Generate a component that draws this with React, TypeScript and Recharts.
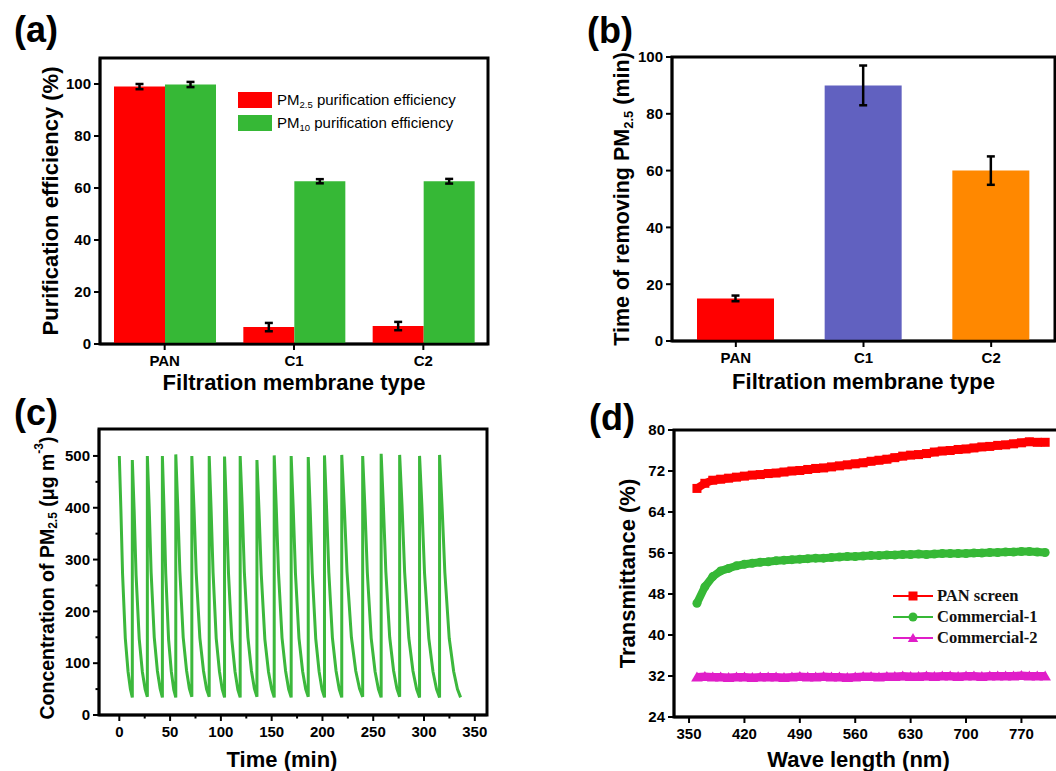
import React from "react";
import { BarChart, Bar, LineChart, Line, XAxis, YAxis, ErrorBar, Cell, Legend, ReferenceArea } from "recharts";

const sans = "'Liberation Sans', Arial, Helvetica, sans-serif";
const serif = "'Liberation Serif', 'Times New Roman', serif";
const axisLine = { stroke: "#000", strokeWidth: 2.5 };
const tickText = { fontFamily: sans, fontSize: 15, fontWeight: 700, fill: "#000" };
const titleStyle = { fontFamily: sans, fontWeight: 700, fill: "#000" };

// (a) purification efficiency per membrane
const membranes = ["PAN", "C1", "C2"];
const pm25Eff = [99.0, 6.5, 6.9];
const pm25EffErr = [1.0, 1.6, 1.6];
const pm10Eff = [99.8, 62.6, 62.6];
const pm10EffErr = [1.0, 0.8, 0.9];
const effColors = ["#ff0000", "#36b836"];

// (b) time needed to remove PM2.5
const removalTime = [15, 90, 60];
const removalTimeErr = [1, 7, 5];
const removalColors = ["#ff0000", "#6161c0", "#ff8800"];

// (c) PM2.5 concentration cycles: time (min) and concentration (ug/m3)
const cycleTimes = [
  [0, 1.5, 3.2, 5.9, 8.6, 10.9, 12.8],
  [12.8, 14.6, 16.5, 19.6, 22.7, 25.4, 27.6],
  [27.6, 29.4, 31.3, 34.4, 37.5, 40.2, 42.4],
  [42.4, 44.0, 45.7, 48.5, 51.2, 53.6, 55.6],
  [55.6, 57.5, 59.6, 62.9, 66.2, 69.0, 71.4],
  [71.4, 73.5, 75.7, 79.3, 82.9, 85.9, 88.5],
  [88.5, 90.3, 92.3, 95.4, 98.6, 101.3, 103.6],
  [103.6, 105.4, 107.5, 110.7, 113.9, 116.7, 119.0],
  [119.0, 121.0, 123.1, 126.6, 130.1, 133.0, 135.5],
  [135.5, 137.5, 139.8, 143.3, 146.9, 150.0, 152.5],
  [152.5, 154.5, 156.7, 160.2, 163.7, 166.7, 169.2],
  [169.2, 171.2, 173.4, 176.9, 180.5, 183.5, 186.0],
  [186.0, 187.9, 190.0, 193.4, 196.7, 199.6, 202.0],
  [202.0, 204.0, 206.3, 209.8, 213.4, 216.5, 219.0],
  [219.0, 221.5, 224.2, 228.5, 232.8, 236.5, 239.6],
  [239.6, 241.8, 244.2, 248.0, 251.8, 255.1, 257.8],
  [257.8, 260.0, 262.4, 266.2, 270.0, 273.3, 276.0],
  [276.0, 278.4, 280.9, 285.0, 289.1, 292.7, 295.6],
  [295.6, 298.0, 300.5, 304.7, 308.8, 312.3, 315.3],
  [315.3, 317.8, 320.5, 324.8, 329.2, 332.9, 336.0],
];
const cycleConc = [
  [500, 400, 272, 148, 84, 50, 34],
  [492, 395, 270, 147, 83, 50, 35],
  [500, 402, 276, 150, 85, 51, 34],
  [500, 398, 273, 146, 84, 49, 34],
  [503, 404, 278, 150, 86, 51, 35],
  [500, 400, 274, 149, 85, 50, 35],
  [500, 401, 275, 148, 84, 50, 34],
  [499, 399, 273, 147, 84, 49, 34],
  [500, 402, 276, 150, 85, 51, 35],
  [492, 396, 270, 146, 83, 50, 34],
  [501, 401, 276, 149, 85, 50, 34],
  [500, 400, 274, 148, 84, 50, 35],
  [498, 399, 273, 147, 84, 49, 34],
  [501, 401, 275, 149, 85, 50, 34],
  [502, 402, 276, 150, 85, 51, 35],
  [500, 400, 274, 148, 84, 50, 34],
  [504, 403, 277, 150, 86, 51, 35],
  [502, 402, 276, 149, 85, 50, 34],
  [500, 400, 274, 148, 84, 50, 34],
  [502, 401, 275, 148, 84, 50, 34],
];

// (d) transmittance spectra
const wavelength = [
  360, 370, 380, 390, 400, 410, 420, 430, 440, 450, 460, 470, 480, 490, 500,
  510, 520, 530, 540, 550, 560, 570, 580, 590, 600, 610, 620, 630, 640, 650,
  660, 670, 680, 690, 700, 710, 720, 730, 740, 750, 760, 770, 780, 790, 800,
];
const panScreen = [
  68.6, 69.6, 70.2, 70.4, 70.6, 70.8, 71.0, 71.2, 71.3, 71.5, 71.6, 71.8, 72.0, 72.1, 72.3,
  72.5, 72.6, 72.8, 73.0, 73.2, 73.4, 73.6, 73.9, 74.1, 74.3, 74.6, 74.9, 75.1, 75.2, 75.4,
  75.7, 75.9, 76.0, 76.2, 76.3, 76.5, 76.7, 76.8, 77.0, 77.1, 77.3, 77.5, 77.7, 77.6, 77.6,
];
const commercial1 = [
  46.2, 49.4, 51.4, 52.5, 53.0, 53.5, 53.8, 54.0, 54.2, 54.3, 54.5, 54.6, 54.7, 54.8, 54.9,
  55.0, 55.0, 55.1, 55.2, 55.3, 55.3, 55.4, 55.5, 55.5, 55.6, 55.6, 55.7, 55.7, 55.8, 55.7,
  55.8, 55.9, 55.9, 55.9, 55.9, 56.0, 56.0, 56.1, 56.1, 56.2, 56.2, 56.3, 56.3, 56.2, 56.1,
];
const commercial2 = [
  31.8, 31.9, 31.8, 31.8, 31.7, 31.8, 31.8, 31.7, 31.8, 31.8, 31.8, 31.7, 31.8, 31.9, 31.8,
  31.8, 31.9, 31.8, 31.8, 31.7, 31.8, 31.9, 31.9, 31.8, 31.9, 31.9, 32.0, 31.9, 31.9, 32.0,
  31.9, 32.0, 32.0, 31.9, 32.0, 32.0, 31.9, 32.0, 32.0, 32.0, 32.0, 32.1, 32.0, 32.0, 32.0,
];
const transSeries = [
  { key: "pan", name: "PAN screen", color: "#ff0000", shape: "square" },
  { key: "c1", name: "Commercial-1", color: "#36b836", shape: "circle" },
  { key: "c2", name: "Commercial-2", color: "#e01ec8", shape: "triangle" },
];

const effData = membranes.map((m, i) => ({
  name: m,
  pm25: pm25Eff[i],
  pm25Err: pm25EffErr[i],
  pm10: pm10Eff[i],
  pm10Err: pm10EffErr[i],
}));
const timeData = membranes.map((m, i) => ({ name: m, time: removalTime[i], err: removalTimeErr[i] }));
const concData = cycleTimes.flatMap((ts, i) => ts.map((t, j) => ({ t, c: cycleConc[i][j] })));
const transData = wavelength.map((w, i) => ({ wl: w, pan: panScreen[i], c1: commercial1[i], c2: commercial2[i] }));

// ticks drawn by hand so majors/minors and outward marks look like Origin
function bottomTick(majors?: number[], len = 6, minorLen = 3.5) {
  return (p: any) => {
    const v = p.payload.value;
    const major = !majors || majors.includes(v);
    return (
      <g>
        <line x1={p.x} x2={p.x} y1={p.y} y2={p.y + (major ? len : minorLen)} stroke="#000" strokeWidth={2} />
        {major && (
          <text x={p.x} y={p.y + 22} textAnchor="middle" {...tickText}>
            {v}
          </text>
        )}
      </g>
    );
  };
}

function leftTick(majors?: number[], len = 6, minorLen = 3.5) {
  return (p: any) => {
    const v = p.payload.value;
    const major = !majors || majors.includes(v);
    return (
      <g>
        <line x1={p.x - (major ? len : minorLen)} x2={p.x} y1={p.y} y2={p.y} stroke="#000" strokeWidth={2} />
        {major && (
          <text x={p.x - len - 3} y={p.y + 5.3} textAnchor="end" {...tickText}>
            {v}
          </text>
        )}
      </g>
    );
  };
}

function xTitle(content: React.ReactNode, dy: number, dx = 0, size = 22) {
  return (p: any) => {
    const vb = p.viewBox;
    return (
      <text x={vb.x + vb.width / 2 + dx} y={vb.y + dy} textAnchor="middle" fontSize={size} {...titleStyle}>
        {content}
      </text>
    );
  };
}

function yTitle(content: React.ReactNode, cx: number, dy = 0, size = 22) {
  return (p: any) => {
    const vb = p.viewBox;
    const x = vb.x + cx;
    const y = vb.y + vb.height / 2 + dy;
    return (
      <text
        x={x}
        y={y}
        transform={`rotate(-90 ${x} ${y})`}
        textAnchor="middle"
        dominantBaseline="central"
        fontSize={size}
        {...titleStyle}
      >
        {content}
      </text>
    );
  };
}

function marker(shape: string, color: string, cx: number, cy: number, s: number, key?: any) {
  if (shape === "square") return <rect key={key} x={cx - s / 2} y={cy - s / 2} width={s} height={s} fill={color} />;
  if (shape === "circle") return <circle key={key} cx={cx} cy={cy} r={s / 2} fill={color} />;
  return (
    <polygon
      key={key}
      points={`${cx},${cy - s * 0.55} ${cx + s * 0.58},${cy + s * 0.45} ${cx - s * 0.58},${cy + s * 0.45}`}
      fill={color}
    />
  );
}

// plot frame (Origin-style closed box)
function frame(y1: number, y2: number) {
  return <ReferenceArea y1={y1} y2={y2} fill="none" fillOpacity={0} stroke="#000" strokeWidth={3} ifOverflow="visible" />;
}

function EffLegend() {
  const subs = ["2.5", "10"];
  return (
    <div style={{ fontFamily: sans, fontSize: 15, color: "#000" }}>
      {subs.map((s, i) => (
        <div key={s} style={{ display: "flex", alignItems: "center", height: 23 }}>
          <span style={{ display: "inline-block", width: 34, height: 16, background: effColors[i], marginRight: 5 }} />
          <span style={{ whiteSpace: "nowrap" }}>
            PM<sub style={{ fontSize: 9.5, verticalAlign: "-3px" }}>{s}</sub> purification efficiency
          </span>
        </div>
      ))}
    </div>
  );
}

function TransLegend() {
  return (
    <div style={{ fontFamily: serif, fontSize: 16.5, fontWeight: 700, color: "#111" }}>
      {transSeries.map((s) => (
        <div key={s.key} style={{ display: "flex", alignItems: "center", height: 21 }}>
          <svg width={40} height={12} style={{ marginRight: 4 }}>
            <line x1={0} x2={40} y1={6} y2={6} stroke={s.color} strokeWidth={2} />
            {marker(s.shape, s.color, 20, 6, 9)}
          </svg>
          <span style={{ whiteSpace: "nowrap" }}>{s.name}</span>
        </div>
      ))}
    </div>
  );
}

function PanelA() {
  return (
    <BarChart width={520} height={400} data={effData} margin={{ top: 58, right: 32, bottom: 0, left: 0 }} barGap={0}>
      <XAxis
        dataKey="name"
        height={56}
        interval={0}
        tickSize={0}
        tickMargin={0}
        tickLine={false}
        axisLine={axisLine}
        tick={bottomTick()}
        label={xTitle("Filtration membrane type", 46)}
      />
      <YAxis
        domain={[0, 110]}
        ticks={[0, 20, 40, 60, 80, 100]}
        allowDataOverflow
        width={100}
        interval={0}
        tickSize={0}
        tickMargin={0}
        tickLine={false}
        axisLine={axisLine}
        tick={leftTick()}
        label={yTitle("Purification efficiency (%)", 50)}
      />
      <Legend
        layout="horizontal"
        verticalAlign="middle"
        align="center"
        content={() => <EffLegend />}
        wrapperStyle={{ left: 238, top: 88.5, width: 240 }}
      />
      <Bar dataKey="pm25" fill={effColors[0]} barSize={51} isAnimationActive={false}>
        <ErrorBar dataKey="pm25Err" width={4} stroke="#000" strokeWidth={2.5} />
      </Bar>
      <Bar dataKey="pm10" fill={effColors[1]} barSize={51} isAnimationActive={false}>
        <ErrorBar dataKey="pm10Err" width={4} stroke="#000" strokeWidth={2.5} />
      </Bar>
      {frame(0, 110)}
    </BarChart>
  );
}

function PanelB() {
  return (
    <BarChart width={496} height={400} data={timeData} margin={{ top: 57, right: 1, bottom: 0, left: 0 }}>
      <XAxis
        dataKey="name"
        height={59}
        interval={0}
        tickSize={0}
        tickMargin={0}
        tickLine={false}
        axisLine={axisLine}
        tick={bottomTick()}
        label={xTitle("Filtration membrane type", 48)}
      />
      <YAxis
        domain={[0, 100]}
        ticks={[0, 20, 40, 60, 80, 100]}
        allowDataOverflow
        width={112}
        interval={0}
        tickSize={0}
        tickMargin={0}
        tickLine={false}
        axisLine={axisLine}
        tick={leftTick()}
        label={yTitle(
          <>
            <tspan>Time of removing PM</tspan>
            <tspan fontSize={13} dy={6}>2.5</tspan>
            <tspan dy={-6}> (min)</tspan>
          </>,
          62,
          0,
          21.5
        )}
      />
      <Bar dataKey="time" barSize={77} isAnimationActive={false}>
        {timeData.map((d, i) => (
          <Cell key={d.name} fill={removalColors[i]} />
        ))}
        <ErrorBar dataKey="err" width={4} stroke="#000" strokeWidth={2.5} />
      </Bar>
      {frame(0, 100)}
    </BarChart>
  );
}

const concXTicks = [0, 25, 50, 75, 100, 125, 150, 175, 200, 225, 250, 275, 300, 325, 350];
const concXMajors = [0, 50, 100, 150, 200, 250, 300, 350];
const concYTicks = [0, 50, 100, 150, 200, 250, 300, 350, 400, 450, 500];
const concYMajors = [0, 100, 200, 300, 400, 500];

function PanelC() {
  return (
    <LineChart width={520} height={381} data={concData} margin={{ top: 39, right: 33, bottom: 0, left: 0 }}>
      <XAxis
        type="number"
        dataKey="t"
        domain={[-20, 362]}
        ticks={concXTicks}
        allowDataOverflow
        height={56}
        interval={0}
        tickSize={0}
        tickMargin={0}
        tickLine={false}
        axisLine={axisLine}
        tick={bottomTick(concXMajors)}
        label={xTitle("Time (min)", 52, -11)}
      />
      <YAxis
        domain={[0, 552]}
        ticks={concYTicks}
        allowDataOverflow
        width={99}
        interval={0}
        tickSize={0}
        tickMargin={0}
        tickLine={false}
        axisLine={axisLine}
        tick={leftTick(concYMajors)}
        label={yTitle(
          <>
            <tspan>Concentration of PM</tspan>
            <tspan fontSize={12} dy={6}>2.5</tspan>
            <tspan dy={-6}> (μg m</tspan>
            <tspan fontSize={12} dy={-8}>-3</tspan>
            <tspan dy={8}>)</tspan>
          </>,
          47,
          6,
          19.5
        )}
      />
      <Line type="linear" dataKey="c" stroke="#3cb83c" strokeWidth={3} dot={false} isAnimationActive={false} />
      {frame(0, 552)}
    </LineChart>
  );
}

const transXTicks = [350, 420, 490, 560, 630, 700, 770];
const transYTicks = [24, 32, 40, 48, 56, 64, 72, 80];

function PanelD() {
  return (
    <LineChart width={502} height={381} data={transData} margin={{ top: 40, right: 1, bottom: 0, left: 0 }}>
      <XAxis
        type="number"
        dataKey="wl"
        domain={[331, 820]}
        ticks={transXTicks}
        allowDataOverflow
        height={54}
        interval={0}
        tickSize={0}
        tickMargin={0}
        tickLine={false}
        axisLine={axisLine}
        tick={bottomTick()}
        label={xTitle("Wave length (nm)", 50, -9)}
      />
      <YAxis
        domain={[24, 80]}
        ticks={transYTicks}
        allowDataOverflow
        width={114}
        interval={0}
        tickSize={0}
        tickMargin={0}
        tickLine={false}
        axisLine={axisLine}
        tick={leftTick()}
        label={yTitle("Transmittance (%)", 67)}
      />
      <Legend
        layout="horizontal"
        verticalAlign="middle"
        align="center"
        content={() => <TransLegend />}
        wrapperStyle={{ left: 333, top: 195.5, width: 170 }}
      />
      {transSeries.map((s) => (
        <Line
          key={s.key}
          type="linear"
          dataKey={s.key}
          name={s.name}
          stroke={s.color}
          strokeWidth={8}
          isAnimationActive={false}
          dot={(p: any) => marker(s.shape, s.color, p.cx, p.cy, s.shape === "triangle" ? 10 : 9, `${s.key}-${p.index}`)}
        />
      ))}
      {frame(24, 80)}
    </LineChart>
  );
}

export default function App() {
  const letter = { fontFamily: sans, fontWeight: 700, fontSize: 36, fill: "#000" };
  return (
    <div
      style={{ position: "absolute", left: 0, top: 0, width: 1056, height: 771, overflow: "hidden", background: "#fff" }}
    >
      <div style={{ position: "absolute", left: 0, top: 0 }}>
        <PanelA />
      </div>
      <div style={{ position: "absolute", left: 560, top: 0 }}>
        <PanelB />
      </div>
      <div style={{ position: "absolute", left: 0, top: 390 }}>
        <PanelC />
      </div>
      <div style={{ position: "absolute", left: 560, top: 390 }}>
        <PanelD />
      </div>
      <svg width={1056} height={771} style={{ position: "absolute", left: 0, top: 0, pointerEvents: "none" }}>
        <text x={14} y={42} {...letter}>(a)</text>
        <text x={587} y={43} {...letter}>(b)</text>
        <text x={14} y={425} {...letter}>(c)</text>
        <text x={589} y={430} {...letter}>(d)</text>
      </svg>
    </div>
  );
}
